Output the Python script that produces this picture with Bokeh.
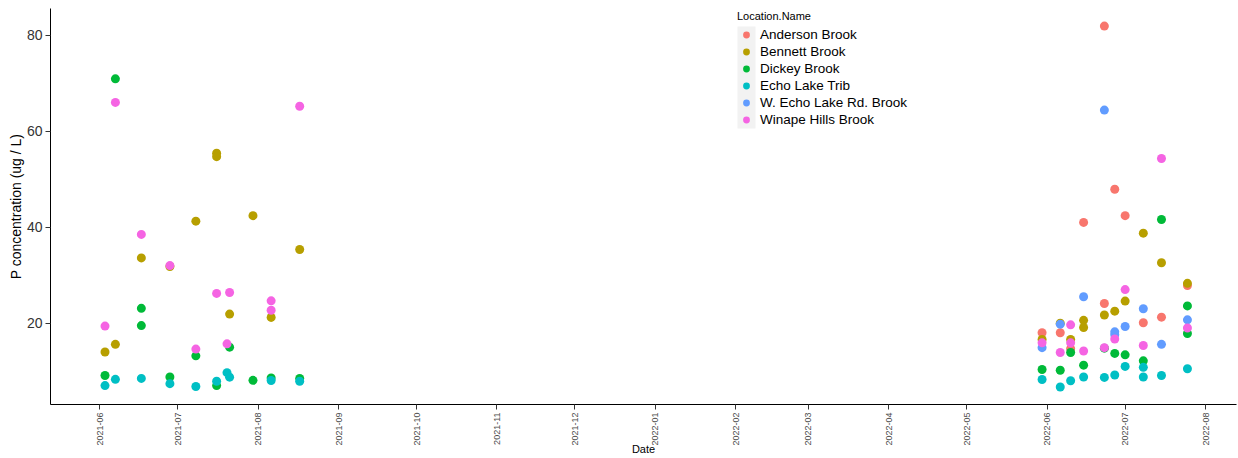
import math
import pandas as pd
from bokeh.plotting import figure
from bokeh.models import (Range1d, MonthsTicker, DatetimeTickFormatter, FixedTicker,
                          Legend, LegendItem, BoxAnnotation, ColumnDataSource)
from bokeh.embed import file_html
from bokeh.resources import INLINE

locations = ["Anderson Brook", "Bennett Brook", "Dickey Brook", "Echo Lake Trib",
             "W. Echo Lake Rd. Brook", "Winape Hills Brook"]
colors = ["#F8766D", "#B79F00", "#00BA38", "#00BFC4", "#619CFF", "#F564E3"]

anderson_dates = ["2022-05-30", "2022-06-06", "2022-06-10", "2022-06-15", "2022-06-23", "2022-06-23",
                  "2022-06-27", "2022-07-01", "2022-07-08", "2022-07-15", "2022-07-25"]
anderson_vals = [18.0, 18.0, 14.7, 41.0, 81.9, 24.1, 47.9, 42.4, 20.1, 21.25, 27.85]

bennett_dates = ["2021-06-03", "2021-06-07", "2021-06-17", "2021-06-28", "2021-07-08", "2021-07-16",
                 "2021-07-16", "2021-07-21", "2021-07-30", "2021-08-06", "2021-08-17",
                 "2022-05-30", "2022-06-06", "2022-06-10", "2022-06-15", "2022-06-15", "2022-06-23",
                 "2022-06-27", "2022-07-01", "2022-07-08", "2022-07-15", "2022-07-25"]
bennett_vals = [14.0, 15.6, 33.6, 31.8, 41.25, 55.4, 54.7, 21.9, 42.4, 21.2, 35.35,
                16.6, 20.0, 16.6, 20.6, 19.1, 21.7, 22.5, 24.6, 38.75, 32.6, 28.3]

dickey_dates = ["2021-06-03", "2021-06-07", "2021-06-17", "2021-06-17", "2021-06-28", "2021-07-08",
                "2021-07-16", "2021-07-21", "2021-07-30", "2021-08-06", "2021-08-17",
                "2022-05-30", "2022-06-06", "2022-06-10", "2022-06-15", "2022-06-23", "2022-06-27",
                "2022-07-01", "2022-07-08", "2022-07-15", "2022-07-25", "2022-07-25"]
dickey_vals = [9.1, 70.9, 23.1, 19.5, 8.8, 13.2, 7.0, 15.0, 8.1, 8.6, 8.5,
               10.35, 10.2, 13.9, 11.25, 14.8, 13.7, 13.4, 12.15, 41.6, 23.6, 17.85]

echo_dates = ["2021-06-03", "2021-06-07", "2021-06-17", "2021-06-28", "2021-07-08", "2021-07-16",
              "2021-07-20", "2021-07-21", "2021-08-06", "2021-08-17",
              "2022-05-30", "2022-06-06", "2022-06-10", "2022-06-15", "2022-06-23", "2022-06-27",
              "2022-07-01", "2022-07-08", "2022-07-08", "2022-07-15", "2022-07-25"]
echo_vals = [7.0, 8.3, 8.5, 7.4, 6.8, 7.9, 9.7, 8.75, 8.05, 7.9,
             8.27, 6.7, 8.0, 8.8, 8.7, 9.2, 11.0, 10.8, 8.8, 9.1, 10.5]

wecho_dates = ["2022-05-30", "2022-06-06", "2022-06-15", "2022-06-23", "2022-06-27", "2022-06-27",
               "2022-07-01", "2022-07-08", "2022-07-15", "2022-07-25"]
wecho_vals = [14.9, 19.8, 25.5, 64.4, 18.2, 17.6, 19.3, 23.0, 15.6, 20.7]

winape_dates = ["2021-06-03", "2021-06-07", "2021-06-17", "2021-06-28", "2021-07-08", "2021-07-16",
                "2021-07-20", "2021-07-21", "2021-08-06", "2021-08-06", "2021-08-17",
                "2022-05-30", "2022-06-06", "2022-06-10", "2022-06-10", "2022-06-15", "2022-06-23",
                "2022-06-27", "2022-07-01", "2022-07-08", "2022-07-15", "2022-07-25"]
winape_vals = [19.4, 66.0, 38.5, 32.0, 14.6, 26.2, 15.7, 26.4, 24.65, 22.7, 65.2,
               15.9, 13.9, 19.65, 15.9, 14.2, 14.9, 16.7, 27.0, 15.35, 54.3, 19.0]

y_ticks = [20, 40, 60, 80]

series = [
    (anderson_dates, anderson_vals),
    (bennett_dates, bennett_vals),
    (dickey_dates, dickey_vals),
    (echo_dates, echo_vals),
    (wecho_dates, wecho_vals),
    (winape_dates, winape_vals),
]

FONT = "Liberation Sans"
origin = pd.Timestamp("2021-06-01")

p = figure(width=1238, height=458, x_axis_type="datetime", output_backend="svg",
           toolbar_location=None,
           x_range=Range1d(origin - pd.Timedelta(days=19.0), origin + pd.Timedelta(days=437.9)),
           y_range=Range1d(3.06, 85.56),
           min_border_left=50, min_border_right=2, min_border_top=8, min_border_bottom=54)
p.outline_line_color = None
p.background_fill_color = "white"
p.border_fill_color = "white"
p.xgrid.visible = False
p.ygrid.visible = False

renderers = []
for (d, v), c in zip(series, colors):
    src = ColumnDataSource(dict(x=pd.to_datetime(d), y=v))
    r = p.scatter("x", "y", source=src, size=9, fill_color=c, line_color=None)
    renderers.append(r)

# axes
for ax in (p.xaxis[0], p.yaxis[0]):
    ax.axis_line_color = "black"
    ax.axis_line_width = 1
    ax.major_tick_line_color = "#333333"
    ax.major_tick_out = 5
    ax.major_tick_in = 0
    ax.minor_tick_line_color = None
    ax.major_label_text_font = FONT
    ax.axis_label_text_font = FONT
    ax.axis_label_text_font_style = "normal"
    ax.axis_label_text_color = "black"

p.yaxis.ticker = FixedTicker(ticks=y_ticks)
p.yaxis.axis_label = "P concentration (ug / L)"
p.yaxis.axis_label_text_font_size = "14px"
p.yaxis.major_label_text_font_size = "14px"
p.yaxis.major_label_text_color = "#333333"
p.yaxis.major_label_standoff = 3
p.yaxis.axis_label_standoff = 0

p.xaxis.ticker = MonthsTicker(months=list(range(12)))
fmt = "%Y-%m"
p.xaxis.formatter = DatetimeTickFormatter(years=fmt, months=fmt, days=fmt, hours=fmt,
                                          minutes=fmt, seconds=fmt, milliseconds=fmt,
                                          microseconds=fmt, hourmin=fmt, minsec=fmt)
p.xaxis.major_label_orientation = math.pi / 2
p.xaxis.major_label_text_font_size = "9px"
p.xaxis.major_label_text_color = "#4D4D4D"
p.xaxis.major_label_standoff = 3
p.xaxis.axis_label = "Date"
p.xaxis.axis_label_text_font_size = "11px"
p.xaxis.axis_label_standoff = -6

# legend (position relative to the frame's bottom-left corner, in pixels)
leg_x, leg_y = 687, 276
row_h = 17
key_w = 18

# grey key background behind the legend glyphs
p.add_layout(BoxAnnotation(left=leg_x, right=leg_x + key_w,
                           bottom=leg_y, top=leg_y + row_h * len(locations),
                           left_units="screen", right_units="screen",
                           top_units="screen", bottom_units="screen",
                           fill_color="#F2F2F2", fill_alpha=1.0, line_color=None))

legend = Legend(items=[LegendItem(label=n, renderers=[r]) for n, r in zip(locations, renderers)],
                location=(leg_x, leg_y), orientation="vertical")
legend.title = "Location.Name"
legend.title_text_font = FONT
legend.title_text_font_size = "11px"
legend.title_text_font_style = "normal"
legend.title_text_color = "black"
legend.title_standoff = 4
legend.label_text_font = FONT
legend.label_text_font_size = "13.5px"
legend.label_text_color = "black"
legend.glyph_width = key_w
legend.glyph_height = row_h
legend.label_height = row_h
legend.spacing = 0
legend.label_standoff = 5
legend.padding = 0
legend.margin = 0
legend.border_line_color = None
legend.background_fill_alpha = 0
p.add_layout(legend, "center")

open("out.html", "w").write(file_html(p, INLINE))
